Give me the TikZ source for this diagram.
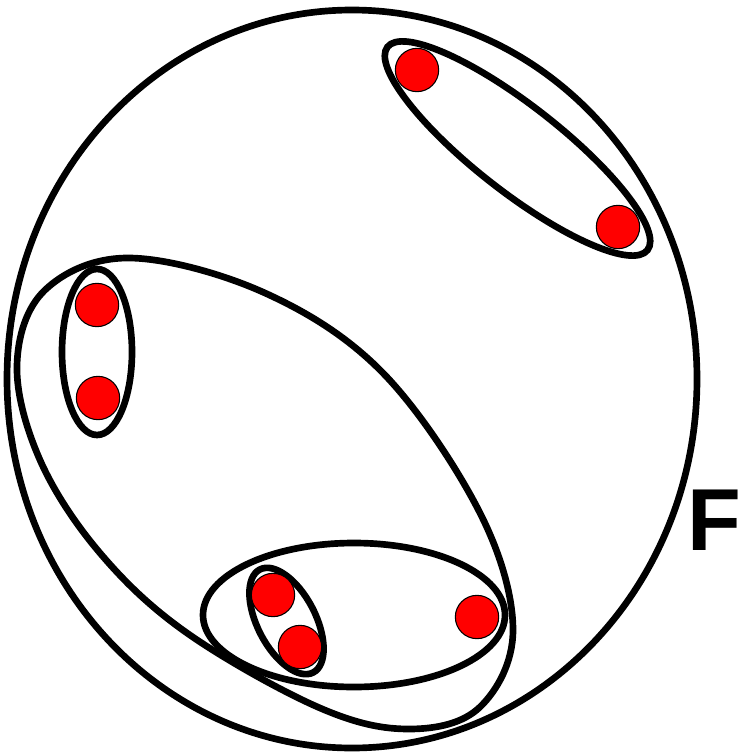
\documentclass[tikz,border=0pt]{standalone}
\usepackage{fontspec}
\setmainfont{Liberation Sans}
\begin{document}
\begin{tikzpicture}[x=0.75pt, y=-0.75pt,
 set/.style={draw, line width=5pt},
 dot/.style={circle, draw, line width=0.8pt, fill=red, minimum size=32.5pt, inner sep=0pt},
 lbl/.style={font=\bfseries\fontsize{66}{66}\selectfont, inner sep=0pt, anchor=base west}]
\useasboundingbox (0,0) rectangle (740,753);
\draw[set] (352,379) ellipse [x radius=345, y radius=369];
\draw[set] plot[smooth cycle, tension=0.6] coordinates {(130,258) (265,293) (383,373) (480,513) (513,630) (480,707) (410,729) (320,708) (187,633) (100,553) (40,460) (17,365) (45,290)};
\draw[set, rotate around={-38:(517.5,148.5)}] (517.5,148.5) ellipse [x radius=165, y radius=43];
\draw[set] (97,352) ellipse [x radius=35, y radius=83];
\draw[set] (354,615) ellipse [x radius=151, y radius=72];
\draw[set, rotate around={-62.6:(286.5,621)}] (286.5,621) ellipse [x radius=58, y radius=29];
\node[dot] (tr1) at (417,70) {};
\node[dot] (tr2) at (618,227) {};
\node[dot] (l1) at (97,305) {};
\node[dot] (l2) at (98,398) {};
\node[dot] (b1) at (273,595) {};
\node[dot] (b2) at (300,647) {};
\node[dot] (b3) at (477,617) {};
\node[lbl] (F) at (687,550) {F};
\end{tikzpicture}
\end{document}
